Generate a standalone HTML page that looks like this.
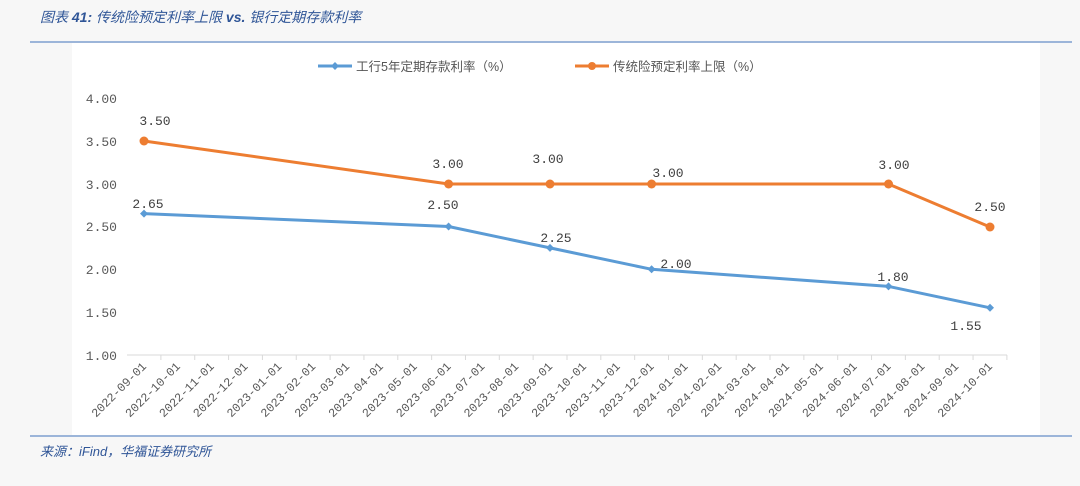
<!DOCTYPE html>
<html><head><meta charset="utf-8"><style>
body{margin:0;background:#f7f7f7;width:1080px;height:481px;overflow:hidden;font-family:"Liberation Sans","Noto Sans CJK SC",sans-serif}
</style></head><body>
<svg width="1080" height="481" xmlns="http://www.w3.org/2000/svg" font-family="Liberation Sans, Noto Sans CJK SC, sans-serif">
<rect x="72" y="43" width="968" height="392" fill="#fff"/>
<text x="40" y="22" font-size="14" fill="#2f5597" font-style="italic">图表 <tspan font-weight="bold">41:</tspan> 传统险预定利率上限 <tspan font-weight="bold">vs.</tspan> 银行定期存款利率</text>
<line x1="30" y1="42" x2="1072" y2="42" stroke="#7f9fcf" stroke-width="1.5"/>
<line x1="30" y1="436" x2="1072" y2="436" stroke="#7f9fcf" stroke-width="1.5"/>
<text x="40" y="456" font-size="13" fill="#2f5597" font-style="italic">来源：iFind，华福证券研究所</text>
<line x1="318" y1="66" x2="352" y2="66" stroke="#5b9bd5" stroke-width="3"/>
<path d="M335 62 L339 66 L335 70 L331 66Z" fill="#5b9bd5"/>
<text x="356" y="71" font-size="12.5" fill="#555">工行5年定期存款利率（%）</text>
<line x1="575" y1="66" x2="609" y2="66" stroke="#ed7d31" stroke-width="3"/>
<circle cx="592" cy="66" r="4" fill="#ed7d31"/>
<text x="613" y="71" font-size="12.5" fill="#555">传统险预定利率上限（%）</text>
<g font-size="13" fill="#595959" text-anchor="end" font-family="Liberation Mono, monospace">
<text x="117" y="103">4.00</text><text x="117" y="146">3.50</text><text x="117" y="189">3.00</text>
<text x="117" y="231">2.50</text><text x="117" y="274">2.00</text><text x="117" y="317">1.50</text><text x="117" y="360">1.00</text>
</g>
<line x1="127" y1="355" x2="1007" y2="355" stroke="#d9d9d9" stroke-width="1"/>
<g id="x" font-size="12" fill="#595959" text-anchor="end" font-family="Liberation Mono, monospace"></g>
<polyline fill="none" stroke="#5b9bd5" stroke-width="3" points="144,213.6 448.6,226.5 550,247.9 651.6,269.3 888.5,286.4 990,307.8"/>
<g fill="#5b9bd5">
<path d="M144 209.6l4 4-4 4-4-4z"/><path d="M448.6 222.5l4 4-4 4-4-4z"/><path d="M550 243.9l4 4-4 4-4-4z"/><path d="M651.6 265.3l4 4-4 4-4-4z"/><path d="M888.5 282.4l4 4-4 4-4-4z"/><path d="M990 303.8l4 4-4 4-4-4z"/>
</g>
<polyline fill="none" stroke="#ed7d31" stroke-width="3" points="144,141 448.6,184 550,184 651.6,184 888.5,184 990,227"/>
<g fill="#ed7d31">
<circle cx="144" cy="141" r="4.5"/><circle cx="448.6" cy="184" r="4.5"/><circle cx="550" cy="184" r="4.5"/><circle cx="651.6" cy="184" r="4.5"/><circle cx="888.5" cy="184" r="4.5"/><circle cx="990" cy="227" r="4.5"/>
</g>
<g font-size="13" fill="#404040" text-anchor="middle" font-family="Liberation Mono, monospace">
<text x="155" y="125">3.50</text><text x="448" y="168">3.00</text><text x="548" y="163">3.00</text><text x="668" y="177">3.00</text><text x="894" y="169">3.00</text><text x="990" y="211">2.50</text>
<text x="148" y="208">2.65</text><text x="443" y="209">2.50</text><text x="556" y="242">2.25</text><text x="676" y="268">2.00</text><text x="893" y="281">1.80</text><text x="966" y="330">1.55</text>
</g>
</svg>
<script>
var g=document.getElementById('x'),ns='http://www.w3.org/2000/svg';
for(var i=0;i<26;i++){var m=8+i,y=2022+Math.floor(m/12),mo=m%12+1;var x=144+i*33.84;
var lab=y+'-'+(mo<10?'0':'')+mo+'-01';
var l=document.createElementNS(ns,'line');l.setAttribute('x1',x+16.9);l.setAttribute('x2',x+16.9);l.setAttribute('y1',355);l.setAttribute('y2',360);l.setAttribute('stroke','#d9d9d9');g.appendChild(l);
var t=document.createElementNS(ns,'text');t.setAttribute('transform','translate('+(x+3)+',367) rotate(-45)');t.textContent=lab;g.appendChild(t);}
</script>
</body></html>
